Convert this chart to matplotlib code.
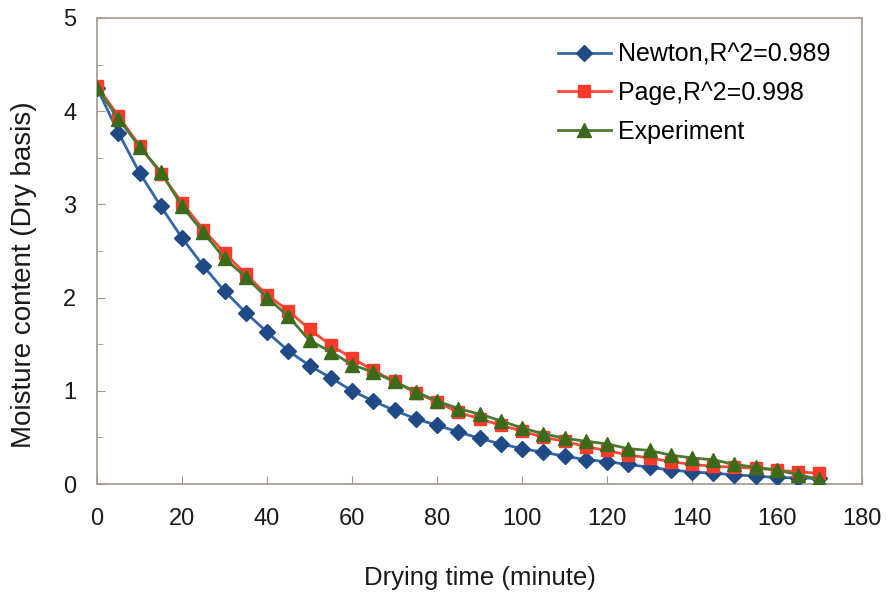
import matplotlib
matplotlib.use("Agg")
import matplotlib.pyplot as plt
from matplotlib.ticker import MultipleLocator

plt.rcParams['font.family'] = ['Liberation Sans', 'DejaVu Sans']

# Drying time in minutes
time_min = [0, 5, 10, 15, 20, 25, 30, 35, 40, 45, 50, 55, 60, 65, 70, 75, 80, 85,
            90, 95, 100, 105, 110, 115, 120, 125, 130, 135, 140, 145, 150, 155, 160, 165, 170]

# Moisture content (dry basis) predicted by the Newton model
newton = [4.25, 3.77, 3.34, 2.98, 2.64, 2.34, 2.07, 1.84, 1.63, 1.43, 1.27, 1.14, 1.00,
          0.89, 0.79, 0.70, 0.63, 0.56, 0.49, 0.43, 0.38, 0.34, 0.30, 0.26, 0.24, 0.21,
          0.18, 0.15, 0.13, 0.115, 0.10, 0.085, 0.07, 0.065, 0.06]

# Moisture content predicted by the Page model
page = [4.27, 3.95, 3.63, 3.33, 3.02, 2.73, 2.48, 2.25, 2.03, 1.86, 1.66, 1.49, 1.35,
        1.22, 1.10, 0.98, 0.88, 0.77, 0.70, 0.63, 0.57, 0.50, 0.46, 0.40, 0.36, 0.31,
        0.28, 0.24, 0.21, 0.19, 0.18, 0.17, 0.15, 0.13, 0.115]

# Measured moisture content
experiment = [4.25, 3.92, 3.62, 3.35, 2.98, 2.70, 2.42, 2.22, 2.00, 1.80, 1.54, 1.42, 1.28,
              1.20, 1.10, 0.99, 0.89, 0.81, 0.75, 0.68, 0.60, 0.54, 0.49, 0.46, 0.43, 0.38,
              0.36, 0.31, 0.28, 0.26, 0.21, 0.18, 0.15, 0.10, 0.05]

labels = ["Newton,R^2=0.989", "Page,R^2=0.998", "Experiment"]

fig = plt.figure(figsize=(8.87, 5.98), dpi=100)
ax = fig.add_axes([0.1094, 0.1906, 0.8624, 0.7793])

ax.plot(time_min, newton, color="#3366a8", lw=2, marker="D", ms=8.5,
        mfc="#1f4a85", mec="#1f4a85", label=labels[0], zorder=3)
ax.plot(time_min, page, color="#ff4a3a", lw=2, marker="s", ms=9,
        mfc="#ff3a2a", mec="#ff3a2a", label=labels[1], zorder=4)
ax.plot(time_min, experiment, color="#4a7a32", lw=2, marker="^", ms=10.5,
        mfc="#3a6a1a", mec="#3a6a1a", label=labels[2], zorder=5)

ax.set_xlim(0, 180)
ax.set_ylim(0, 5)
ax.xaxis.set_major_locator(MultipleLocator(20))
ax.yaxis.set_major_locator(MultipleLocator(1))
ax.yaxis.set_minor_locator(MultipleLocator(0.5))

for s in ax.spines.values():
    s.set_color("#a09890")
    s.set_linewidth(1.2)

ax.tick_params(axis="both", which="both", direction="in", colors="#a09890",
               labelcolor="#1a1a1a", labelsize=17)
ax.tick_params(axis="both", which="major", length=6)
ax.tick_params(axis="y", which="minor", length=4)
ax.tick_params(axis="x", pad=17)
ax.tick_params(axis="y", pad=15)

ax.set_xlabel("Drying time (minute)", fontsize=18.5, color="#1a1a1a", labelpad=26)
ax.set_ylabel("Moisture content (Dry basis)", fontsize=20, color="#1a1a1a")
ax.yaxis.set_label_coords(-0.079, 0.449)

ax.legend(loc="upper right", frameon=False, fontsize=18, handlelength=2.1,
          handletextpad=0.3, labelspacing=0.58, borderaxespad=0.4,
          bbox_to_anchor=(0.985, 0.99))

fig.savefig("out.png", dpi=100, facecolor="white")
